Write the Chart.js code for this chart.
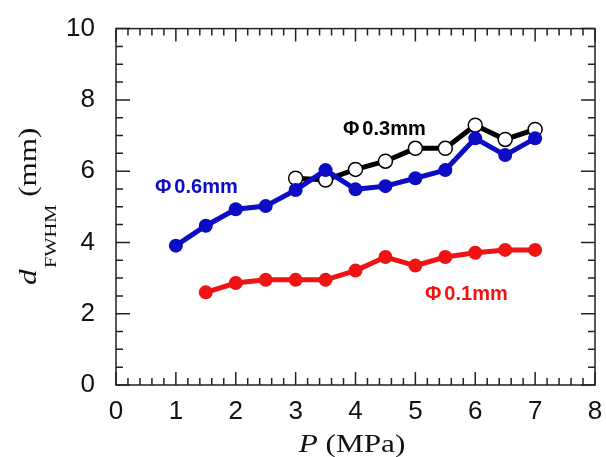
<!DOCTYPE html>
<html>
<head>
<meta charset="utf-8">
<script src="https://cdn.jsdelivr.net/npm/chart.js@4/dist/chart.umd.min.js"></script>
<style>
  body { margin: 0; background: #fff; }
</style>
</head>
<body>
<canvas id="chart" width="606" height="457"></canvas>
<script>
// pressure P (MPa) and d_FWHM (mm) for each nozzle diameter
const p06 = [1, 1.5, 2, 2.5, 3, 3.5, 4, 4.5, 5, 5.5, 6, 6.5, 7];
const d06 = [3.91, 4.47, 4.93, 5.02, 5.47, 6.03, 5.49, 5.58, 5.80, 6.03, 6.92, 6.45, 6.92];

const p03 = [3, 3.5, 4, 4.5, 5, 5.5, 6, 6.5, 7];
const d03 = [5.80, 5.75, 6.05, 6.28, 6.64, 6.64, 7.29, 6.89, 7.17];

const p01 = [1.5, 2, 2.5, 3, 3.5, 4, 4.5, 5, 5.5, 6, 6.5, 7];
const d01 = [2.60, 2.86, 2.95, 2.95, 2.95, 3.21, 3.59, 3.35, 3.59, 3.71, 3.79, 3.79];

// series labels drawn inside the plot (data coordinates)
const labelText = ['Φ0.6mm', 'Φ0.3mm', 'Φ0.1mm'];
const labelX = [0.65, 3.79, 5.16];
const labelY = [5.53, 7.18, 2.53];

const BLUE = '#0c0cc4';
const RED = '#ee1414';
const labelColor = [BLUE, '#000', RED];

const toPoints = (xs, ys) => xs.map((x, i) => ({ x: x, y: ys[i] }));

// frame and inward ticks on all four sides
const frameTicks = {
    id: 'frameTicks',
    beforeDatasetsDraw(chart) {
        const { ctx, chartArea: a, scales: { x, y } } = chart;
        ctx.save();
        ctx.strokeStyle = '#222';
        ctx.lineWidth = 1.5;
        ctx.strokeRect(a.left, a.top, a.right - a.left, a.bottom - a.top);
        ctx.beginPath();
        for (let i = 0; i <= 40; i++) {
            const px = x.getPixelForValue(i * 0.2);
            const len = i % 5 === 0 ? 13 : 7;
            ctx.moveTo(px, a.bottom); ctx.lineTo(px, a.bottom - len);
            ctx.moveTo(px, a.top); ctx.lineTo(px, a.top + len);
        }
        for (let i = 0; i <= 20; i++) {
            const py = y.getPixelForValue(i * 0.5);
            const len = i % 4 === 0 ? 14 : 7;
            ctx.moveTo(a.left, py); ctx.lineTo(a.left + len, py);
            ctx.moveTo(a.right, py); ctx.lineTo(a.right - len, py);
        }
        ctx.stroke();
        ctx.restore();
    }
};

// series labels and axis titles (with italic symbol and subscript)
const annotations = {
    id: 'annotations',
    afterDraw(chart) {
        const { ctx, chartArea: a, scales: { x, y } } = chart;
        ctx.save();
        ctx.textBaseline = 'middle';
        ctx.font = 'bold 20px "Liberation Sans"';
        labelText.forEach((t, i) => {
            const px = x.getPixelForValue(labelX[i]);
            const py = y.getPixelForValue(labelY[i]);
            ctx.fillStyle = labelColor[i];
            ctx.fillText(t[0], px, py);
            ctx.fillText(t.slice(1), px + ctx.measureText(t[0]).width + 3, py);
        });

        ctx.fillStyle = '#111';
        ctx.textBaseline = 'alphabetic';
        const stretch = 1.2;

        // x title: P (MPa)
        const italic = 'italic 26px "Liberation Serif"';
        const roman = '26px "Liberation Serif"';
        ctx.font = italic;
        const wP = ctx.measureText('P').width;
        ctx.font = roman;
        const wRest = ctx.measureText(' (MPa)').width;
        ctx.save();
        ctx.translate(352 - (wP + wRest) * stretch / 2, 452);
        ctx.scale(stretch, 1);
        ctx.font = italic;
        ctx.fillText('P', 0, 0);
        ctx.font = roman;
        ctx.fillText(' (MPa)', wP, 0);
        ctx.restore();

        // y title: d_FWHM (mm)
        const sub = '17px "Liberation Serif"';
        ctx.font = italic;
        const wd = ctx.measureText('d').width;
        ctx.font = sub;
        const wSub = ctx.measureText('FWHM').width;
        ctx.font = roman;
        const wmm = ctx.measureText(' (mm)').width;
        const total = (wd + wSub + wmm) * stretch;
        ctx.save();
        ctx.translate(36, (a.top + a.bottom) / 2);
        ctx.rotate(-Math.PI / 2);
        ctx.translate(-total / 2, 0);
        ctx.scale(stretch, 1);
        ctx.font = italic;
        ctx.fillText('d', 0, 0);
        ctx.font = sub;
        ctx.fillText('FWHM', wd + 1, 20);
        ctx.font = roman;
        ctx.fillText(' (mm)', wd + wSub + 1, 0);
        ctx.restore();

        ctx.restore();
    }
};

const tickFont = { family: '"Liberation Sans", Arial, sans-serif', size: 26 };

const ctx = document.getElementById('chart').getContext('2d');
const chart = new Chart(ctx, {
    type: 'line',
    data: {
        datasets: [{
            label: 'Φ0.6mm',
            data: toPoints(p06, d06),
            borderColor: BLUE,
            backgroundColor: BLUE,
            borderWidth: 5,
            pointRadius: 7,
            pointBorderWidth: 0,
            order: 0,
        }, {
            label: 'Φ0.3mm',
            data: toPoints(p03, d03),
            borderColor: '#000',
            backgroundColor: '#fff',
            borderWidth: 5,
            pointRadius: 7,
            pointBorderColor: '#000',
            pointBackgroundColor: '#fff',
            pointBorderWidth: 1.5,
            order: 1,
        }, {
            label: 'Φ0.1mm',
            data: toPoints(p01, d01),
            borderColor: RED,
            backgroundColor: RED,
            borderWidth: 5,
            pointRadius: 7,
            pointBorderWidth: 0,
            order: 2,
        }]
    },
    options: {
        responsive: false,
        animation: false,
        layout: { padding: { left: 0, top: 28, right: 11, bottom: 0 } },
        plugins: {
            legend: { display: false },
            tooltip: { enabled: false },
        },
        scales: {
            x: {
                type: 'linear',
                min: 0,
                max: 8,
                ticks: { stepSize: 1, font: tickFont, color: '#111', padding: 3, maxRotation: 0 },
                grid: { display: false },
                border: { display: false },
                afterFit: (s) => { s.height = 72; },
            },
            y: {
                min: 0,
                max: 10,
                ticks: { stepSize: 2, font: tickFont, color: '#111', padding: 13 },
                grid: { display: false },
                border: { display: false },
                afterFit: (s) => { s.width = 116; },
            },
        },
    },
    plugins: [frameTicks, annotations],
});
</script>
</body>
</html>
